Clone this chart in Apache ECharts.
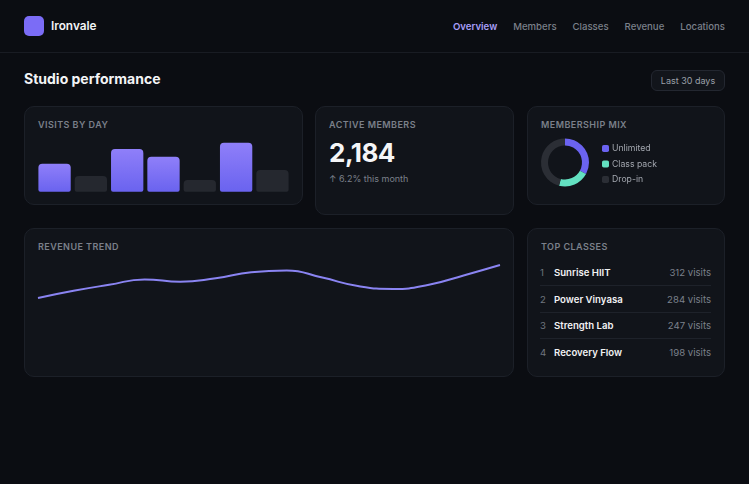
<!DOCTYPE html>
<html>
<head>
<meta charset="utf-8">
<script src="https://cdn.jsdelivr.net/npm/echarts@6/dist/echarts.min.js"></script>
<style>
  html, body { margin:0; padding:0; width:749px; height:484px; background:#0b0d12; overflow:hidden; font-family: Inter, "Noto Sans", sans-serif; }
  .abs { position:absolute; }
  .header { position:absolute; left:0; top:0; width:749px; height:52px; border-bottom:1px solid #191c23; }
  .logo { left:24px; top:16px; width:20px; height:20px; border-radius:5px; background:#7b6cf6; }
  .brand { left:51px; top:18px; font-size:11.8px; font-weight:600; color:#f3f4f6; line-height:16px; }
  .nav { right:24px; top:20px; display:flex; gap:16px; font-size:9.6px; line-height:14px; color:#7b808a; font-weight:500; }
  .nav .on { color:#a89ff8; font-weight:600; }
  .h1 { left:24px; top:69px; font-size:14px; font-weight:700; color:#f3f4f6; line-height:20px; }
  .btn { left:651px; top:70px; width:72px; height:19px; border:1px solid #232730; background:#12151b; border-radius:6px; color:#9ba0a9; font-size:9px; line-height:19px; text-align:center; }
  .card { position:absolute; background:#11141a; border:1px solid #1c2028; border-radius:10px; box-sizing:border-box; }
  .ttl { position:absolute; left:13px; top:12px; font-size:9px; font-weight:600; letter-spacing:0.45px; color:#7b808a; line-height:12px; }
  .big { position:absolute; left:13px; top:31px; font-size:26px; font-weight:700; color:#f5f6f8; letter-spacing:-0.5px; line-height:30px; }
  .sub { position:absolute; left:13px; top:66px; font-size:9px; color:#7b808a; line-height:12px; }
  .chart { position:absolute; left:0; top:0; }
  .row { position:absolute; left:12px; width:171px; height:26px; font-size:9.6px; line-height:14px; }
  .row .n { position:absolute; left:0; top:0; color:#6f747e; }
  .row .nm { position:absolute; left:14px; top:0; color:#f1f2f4; font-weight:600; }
  .row .v { position:absolute; right:0; top:0; color:#7b808a; }
  .sep { position:absolute; left:12px; width:171px; height:1px; background:#1e222a; }
</style>
</head>
<body>
<div class="header"></div>
<div class="abs logo"></div>
<div class="abs brand">Ironvale</div>
<div class="abs nav" id="nav"></div>
<div class="abs h1">Studio performance</div>
<div class="abs btn">Last 30 days</div>

<div class="card" style="left:24px;top:106px;width:279px;height:99px;">
  <div class="ttl">VISITS BY DAY</div>
  <div class="chart" id="bars" style="width:277px;height:97px;"></div>
</div>
<div class="card" style="left:315px;top:106px;width:199px;height:109px;">
  <div class="ttl">ACTIVE MEMBERS</div>
  <div class="big" id="kpi"></div>
  <div class="sub" id="kpisub"></div>
</div>
<div class="card" style="left:527px;top:106px;width:198px;height:99px;">
  <div class="ttl">MEMBERSHIP MIX</div>
  <div class="chart" id="donut" style="width:196px;height:97px;"></div>
</div>
<div class="card" style="left:24px;top:228px;width:490px;height:149px;">
  <div class="ttl">REVENUE TREND</div>
  <div class="chart" id="line" style="width:488px;height:147px;"></div>
</div>
<div class="card" id="topcls" style="left:527px;top:228px;width:198px;height:149px;">
  <div class="ttl">TOP CLASSES</div>
</div>

<script>
// ---- data ----
var navItems = ["Overview", "Members", "Classes", "Revenue", "Locations"];
var visitDays = ["Mon", "Tue", "Wed", "Thu", "Fri", "Sat", "Sun"];
var visitValues = [103, 58, 158, 129, 43, 181, 80];
var visitHighlight = [true, false, true, true, false, true, false];
var activeMembers = "2,184";
var memberChange = "↑ 6.2% this month";
var mixLabels = ["Unlimited", "Class pack", "Drop-in"];
var mixValues = [33, 21, 46];
var revenueWeeks = ["W1","W2","W3","W4","W5","W6","W7","W8","W9","W10","W11","W12","W13","W14"];
var revenueValues = [60, 66, 71, 75.5, 73.5, 76.5, 81.5, 83, 77, 70, 67.5, 71, 79, 87.5];
var classNames = ["Sunrise HIIT", "Power Vinyasa", "Strength Lab", "Recovery Flow"];
var classVisits = [312, 284, 247, 198];

// ---- static text ----
var navEl = document.getElementById('nav');
navItems.forEach(function (t, i) {
  var s = document.createElement('span');
  s.textContent = t;
  if (i === 0) s.className = 'on';
  navEl.appendChild(s);
});
document.getElementById('kpi').textContent = activeMembers;
document.getElementById('kpisub').textContent = memberChange;

var topEl = document.getElementById('topcls');
classNames.forEach(function (name, i) {
  var r = document.createElement('div');
  r.className = 'row';
  r.style.top = (37 + i * 26.7) + 'px';
  r.innerHTML = '<span class="n">' + (i + 1) + '</span><span class="nm">' + name +
    '</span><span class="v">' + classVisits[i] + ' visits</span>';
  topEl.appendChild(r);
  if (i < classNames.length - 1) {
    var s = document.createElement('div');
    s.className = 'sep';
    s.style.top = (56 + i * 26.7) + 'px';
    topEl.appendChild(s);
  }
});

// ---- bars ----
var purple = new echarts.graphic.LinearGradient(0, 0, 0, 1, [
  { offset: 0, color: '#8f7ff9' }, { offset: 1, color: '#6a63ef' }
]);
var bars = echarts.init(document.getElementById('bars'));
bars.setOption({
  animation: false,
  grid: { left: 11.4, right: 11.4, top: 30.6, bottom: 12.3 },
  xAxis: { type: 'category', data: visitDays, show: false },
  yAxis: { type: 'value', min: 0, max: 200, show: false },
  series: [{
    type: 'bar',
    barCategoryGap: '11%',
    data: visitValues.map(function (v, i) {
      return {
        value: v,
        itemStyle: {
          color: visitHighlight[i] ? purple : '#25282f',
          borderRadius: [4, 4, 2, 2]
        }
      };
    })
  }]
});

// ---- donut ----
var donut = echarts.init(document.getElementById('donut'));
donut.setOption({
  animation: false,
  color: ['#6b63f1', '#63e1c1', '#2b2e35'],
  legend: {
    orient: 'vertical',
    left: 74, top: 37,
    padding: 0,
    itemWidth: 7, itemHeight: 7, itemGap: 6.5,
    icon: 'roundRect',
    textStyle: { color: '#a2a6ae', fontSize: 8.7, fontFamily: 'Inter', padding: [0, 0, 0, -2] },
    data: mixLabels
  },
  series: [{
    type: 'pie',
    center: [37, 55.5],
    radius: [17, 24],
    startAngle: 90,
    label: { show: false },
    labelLine: { show: false },
    silent: true,
    data: mixLabels.map(function (n, i) { return { name: n, value: mixValues[i] }; })
  }]
});

// ---- line ----
var line = echarts.init(document.getElementById('line'));
line.setOption({
  animation: false,
  grid: { left: 13, right: 13, top: 21, bottom: 6 },
  xAxis: { type: 'category', data: revenueWeeks, boundaryGap: false, show: false },
  yAxis: { type: 'value', min: 0, max: 100, show: false },
  series: [{
    type: 'line',
    data: revenueValues,
    smooth: 0.5,
    symbol: 'none',
    lineStyle: { color: '#8a84f2', width: 2 }
  }]
});
</script>
</body>
</html>
